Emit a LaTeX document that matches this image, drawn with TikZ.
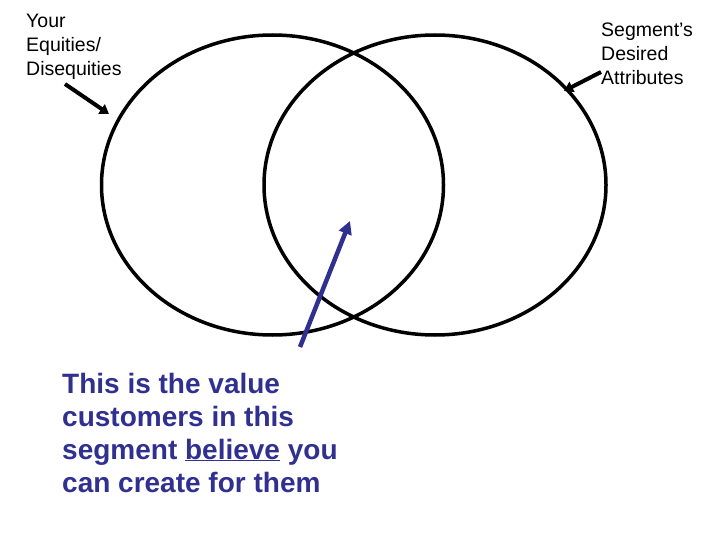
\documentclass[tikz,border=0pt]{standalone}
\usepackage{fontspec}
\setmainfont{Liberation Sans}
\usetikzlibrary{arrows.meta}
\definecolor{valueblue}{RGB}{48,48,145}
\tikzset{
  ring/.style={line width=3.5pt},
  label/.style={anchor=base west, align=left, inner sep=0pt, font=\fontsize{19.5}{24}\selectfont},
  pointer/.style={line width=4pt, -{Triangle[length=9pt,width=11pt]}}
}

\begin{document}
\begin{tikzpicture}[x=1pt,y=-1pt]
		\useasboundingbox (0,0) rectangle (720,540);
		
		% the two circles
		\draw[ring] (272.5,185) ellipse [x radius=171, y radius=150];
		\draw[ring] (435,185) ellipse [x radius=171, y radius=150];
		
		% base is the last line
		\node[label] (yours) at (26,76) {Your\\Equities/\\Disequities};
		\node[label] (segment) at (601,85) {Segment’s\\Desired\\Attributes};
		
		\coordinate (yourstail) at (65,84);
		\coordinate (yourstip) at (109,114);
		\coordinate (segtail) at (601,72);
		\coordinate (segtip) at (564,91);
		\draw[pointer] (yourstail) -- (yourstip);
		\draw[pointer] (segtail) -- (segtip);
		
		% overlap
		\node[anchor=base west, align=left, inner sep=0pt, text=valueblue,
		      font=\bfseries\fontsize{28}{33}\selectfont] (value) at (62,492)
		  {This is the value\\customers in this\\segment \underline{believe} you\\can create for them};
		\coordinate (valuetail) at (300,347);
		\coordinate (valuetip) at (350,221);
		\draw[valueblue, line width=4.5pt, -{Triangle[length=13pt,width=13pt]}] (valuetail) -- (valuetip);
		\end{tikzpicture}
\end{document}
